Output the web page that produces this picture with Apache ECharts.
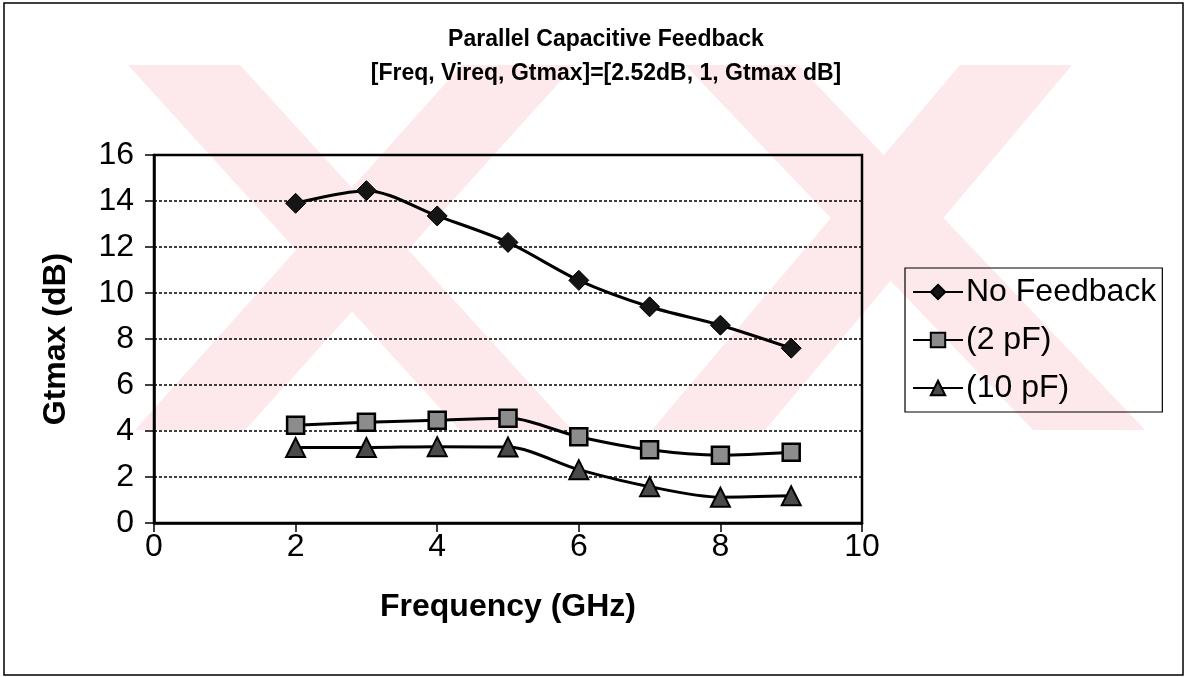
<!DOCTYPE html>
<html>
<head>
<meta charset="utf-8">
<script src="https://cdn.jsdelivr.net/npm/echarts@6/dist/echarts.min.js"></script>
<style>
  html, body { margin: 0; padding: 0; background: #fff; }
  #chart { width: 1187px; height: 677px; }
</style>
</head>
<body>
<div id="chart"></div>
<script>
// frequency points (GHz)
const freqs = [2, 3, 4, 5, 6, 7, 8, 9];

// Gtmax (dB)
const noFeedback = [13.9, 14.45, 13.35, 12.2, 10.55, 9.4, 8.6, 7.6];
const cap2pF = [4.25, 4.38, 4.47, 4.55, 3.75, 3.18, 2.95, 3.08];
const cap10pF = [3.28, 3.28, 3.32, 3.3, 2.32, 1.58, 1.12, 1.18];

const seriesNames = ["No Feedback", "(2 pF)", "(10 pF)"];

const pair = (ys) => freqs.map((f, i) => [f, ys[i]]);

// faint pink watermark stripes behind the chart
const pink = "#fde8eb";
function band(pts) {
  return {
    type: "polygon",
    silent: true,
    z: -10,
    shape: { points: pts },
    style: { fill: pink },
  };
}

const chart = echarts.init(document.getElementById("chart"));

const lineStyle = { color: "#000", width: 3 };

chart.setOption({
  backgroundColor: "#fff",
  animation: false,
  textStyle: { fontFamily: "Arial, 'Liberation Sans', sans-serif", color: "#000" },
  title: {
    text: "Parallel Capacitive Feedback\n[Freq, Vireq, Gtmax]=[2.52dB, 1, Gtmax dB]",
    left: 601,
    top: 18,
    textAlign: "center",
    textStyle: {
      fontSize: 23,
      fontWeight: "bold",
      color: "#000",
      lineHeight: 34,
    },
  },
  legend: {
    orient: "vertical",
    left: 905,
    top: 268,
    padding: [8, 6, 8, 7],
    itemWidth: 50,
    itemHeight: 18,
    itemGap: 16,
    borderColor: "#000",
    borderWidth: 1.2,
    backgroundColor: "transparent",
    textStyle: { fontSize: 32, color: "#000", padding: [0, 0, 0, -2] },
    data: seriesNames,
  },
  grid: {
    left: 154,
    right: 325,
    top: 155,
    bottom: 154,
    show: true,
    borderColor: "#000",
    borderWidth: 2.5,
    backgroundColor: "transparent",
  },
  xAxis: {
    type: "value",
    min: 0,
    max: 10,
    interval: 2,
    name: "Frequency (GHz)",
    nameLocation: "middle",
    nameGap: 68,
    nameTextStyle: { fontSize: 32, fontWeight: "bold", color: "#000" },
    axisLine: { show: true, lineStyle: { color: "#000", width: 2.5 } },
    axisTick: { show: true, length: 9, lineStyle: { color: "#000", width: 1.5 } },
    axisLabel: { fontSize: 32, color: "#000", margin: 8 },
    splitLine: { show: false },
  },
  yAxis: {
    type: "value",
    min: 0,
    max: 16,
    interval: 2,
    name: "Gtmax (dB)",
    nameLocation: "middle",
    nameGap: 82,
    nameTextStyle: { fontSize: 32, fontWeight: "bold", color: "#000" },
    axisLine: { show: true, lineStyle: { color: "#000", width: 2.5 } },
    axisTick: { show: true, length: 9, lineStyle: { color: "#000", width: 1.5 } },
    axisLabel: { fontSize: 32, color: "#000", margin: 20 },
    splitLine: {
      show: true,
      lineStyle: { color: "#000", width: 1.5, type: [3, 2] },
    },
  },
  graphic: [
    // outer frame
    {
      type: "rect",
      silent: true,
      z: -5,
      shape: { x: 4, y: 3, width: 1179, height: 672 },
      style: { fill: "none", stroke: "#000", lineWidth: 1.5 },
    },
    band([[128, 65], [240, 65], [572, 430], [460, 430]]),
    band([[462, 65], [575, 65], [245, 430], [135, 430]]),
    band([[685, 65], [798, 65], [1145, 430], [1033, 430]]),
    band([[960, 65], [1072, 65], [765, 430], [652, 430]]),
  ],
  series: [
    {
      name: seriesNames[0],
      type: "line",
      data: pair(noFeedback),
      smooth: 0.3,
      symbol: "diamond",
      symbolSize: 20,
      lineStyle: lineStyle,
      itemStyle: { color: "#151515", borderColor: "#000", borderWidth: 1 },
      z: 5,
    },
    {
      name: seriesNames[1],
      type: "line",
      data: pair(cap2pF),
      smooth: 0.3,
      symbol: "rect",
      symbolSize: 17,
      lineStyle: lineStyle,
      itemStyle: { color: "#8c8c8c", borderColor: "#000", borderWidth: 2.5 },
      z: 4,
    },
    {
      name: seriesNames[2],
      type: "line",
      data: pair(cap10pF),
      smooth: 0.3,
      symbol: "triangle",
      symbolSize: 19,
      lineStyle: lineStyle,
      itemStyle: { color: "#4a4a4a", borderColor: "#000", borderWidth: 2 },
      z: 3,
    },
  ],
});
</script>
</body>
</html>
